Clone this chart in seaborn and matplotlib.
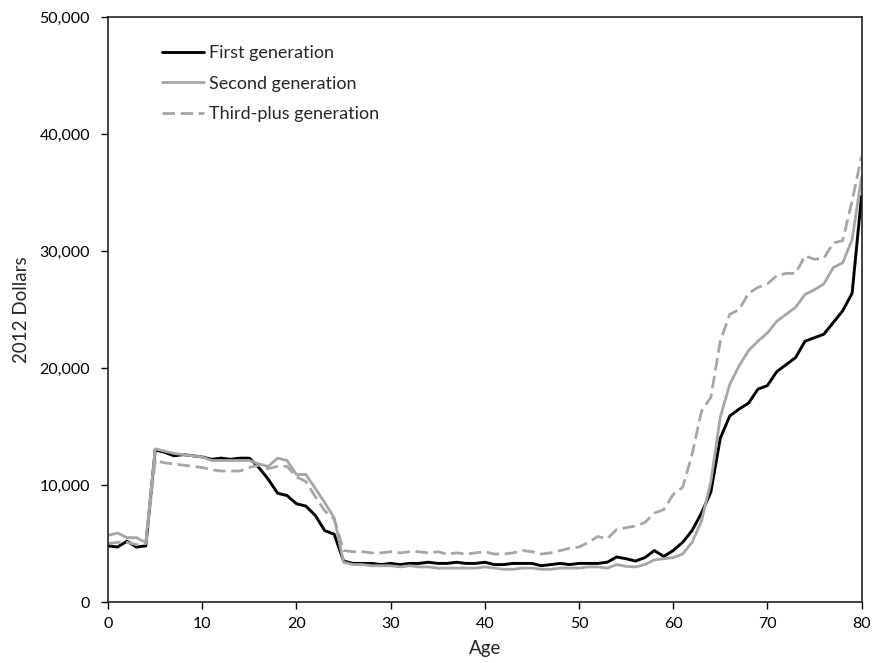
import matplotlib.pyplot as plt
import seaborn as sns
import pandas as pd
import numpy as np
from matplotlib.ticker import FuncFormatter

ages = list(range(0, 81))

first_gen = [
    4.8, 4.7, 5.2, 4.7, 4.8, 13.0, 12.8, 12.5, 12.6, 12.5,
    12.4, 12.2, 12.3, 12.2, 12.3, 12.3, 11.5, 10.5, 9.3, 9.1,
    8.4, 8.2, 7.4, 6.1, 5.8, 3.5, 3.3, 3.3, 3.3, 3.2,
    3.3, 3.2, 3.3, 3.3, 3.4, 3.3, 3.3, 3.4, 3.3, 3.3,
    3.4, 3.2, 3.2, 3.3, 3.3, 3.3, 3.1, 3.2, 3.3, 3.2,
    3.3, 3.3, 3.3, 3.4, 3.85, 3.7, 3.5, 3.8, 4.4, 3.9,
    4.4, 5.1, 6.1, 7.6, 9.4, 14.0, 15.9, 16.5, 17.0, 18.2,
    18.5, 19.7, 20.3, 20.9, 22.3, 22.6, 22.9, 23.9, 24.9, 26.4,
    34.7,
]

second_gen = [
    5.7, 5.9, 5.5, 5.5, 5.1, 13.1, 12.9, 12.7, 12.6, 12.5,
    12.4, 12.1, 12.1, 12.1, 12.1, 12.1, 11.8, 11.6, 12.3, 12.1,
    10.9, 10.9, 9.7, 8.5, 7.2, 3.4, 3.2, 3.2, 3.1, 3.1,
    3.1, 3.0, 3.1, 3.0, 3.0, 2.9, 2.9, 2.9, 2.9, 2.9,
    3.0, 2.9, 2.8, 2.8, 2.9, 2.9, 2.8, 2.8, 2.9, 2.9,
    2.9, 3.0, 3.0, 2.9, 3.2, 3.05, 3.0, 3.2, 3.6, 3.7,
    3.8, 4.1, 5.1, 6.9, 10.3, 15.8, 18.6, 20.2, 21.5, 22.3,
    23.0, 24.0, 24.6, 25.2, 26.3, 26.7, 27.2, 28.6, 29.0, 31.0,
    36.3,
]

third_gen = [
    5.0, 5.1, 5.1, 4.9, 5.0, 12.1, 11.9, 11.8, 11.7, 11.6,
    11.5, 11.3, 11.2, 11.2, 11.2, 11.5, 11.7, 11.4, 11.6, 11.6,
    10.7, 10.3, 9.0, 7.8, 7.1, 4.4, 4.3, 4.3, 4.2, 4.2,
    4.3, 4.2, 4.3, 4.3, 4.2, 4.3, 4.1, 4.2, 4.1, 4.2,
    4.3, 4.1, 4.1, 4.2, 4.4, 4.3, 4.1, 4.2, 4.4, 4.6,
    4.7, 5.1, 5.6, 5.4, 6.2, 6.35, 6.5, 6.8, 7.6, 7.9,
    9.2, 9.8, 12.6, 16.3, 17.5, 22.3, 24.6, 25.0, 26.4, 26.9,
    27.2, 27.9, 28.1, 28.1, 29.6, 29.3, 29.4, 30.7, 30.9, 34.3,
    38.1,
]

labels = ['First generation', 'Second generation', 'Third-plus generation']

df = pd.DataFrame({
    'age': ages * 3,
    'dollars': np.array(first_gen + second_gen + third_gen) * 1000,
    'group': np.repeat(labels, len(ages)),
})

sns.set_style('white')
plt.rcParams['font.family'] = ['Lato', 'DejaVu Sans']

fig = plt.figure(figsize=(8.72, 6.63), dpi=100)
ax = fig.add_axes([0.124, 0.092, 0.864, 0.882])

gray = '#a6a6a6'
styles = {
    'First generation': dict(color='black', linestyle='-', linewidth=2.1),
    'Second generation': dict(color=gray, linestyle='-', linewidth=2.0),
    'Third-plus generation': dict(color=gray, linestyle=(0, (4.5, 2)), linewidth=2.0),
}
for lab in labels:
    sns.lineplot(data=df[df['group'] == lab], x='age', y='dollars',
                 label=lab, ax=ax, **styles[lab])

ax.set_xlim(0, 80)
ax.set_ylim(0, 50000)
ax.set_xticks(range(0, 81, 10))
ax.set_yticks(range(0, 50001, 10000))
ax.yaxis.set_major_formatter(FuncFormatter(lambda v, p: f'{int(v):,}'))
ax.tick_params(axis='both', direction='out', length=5, width=1, labelsize=11.5,
               left=True, bottom=True, colors='black')
ax.tick_params(axis='y', pad=8)
ax.tick_params(axis='x', pad=6)
for s in ax.spines.values():
    s.set_color('#222222')
    s.set_linewidth(1.2)

ax.set_xlabel('Age', fontsize=13.5, labelpad=6)
ax.set_ylabel('2012 Dollars', fontsize=13.5, labelpad=7)

ax.legend(loc='upper left', bbox_to_anchor=(0.05, 0.98), frameon=False,
          fontsize=13, handlelength=2.3, labelspacing=0.8, handletextpad=0.3)

plt.savefig('out.png', dpi=100)
